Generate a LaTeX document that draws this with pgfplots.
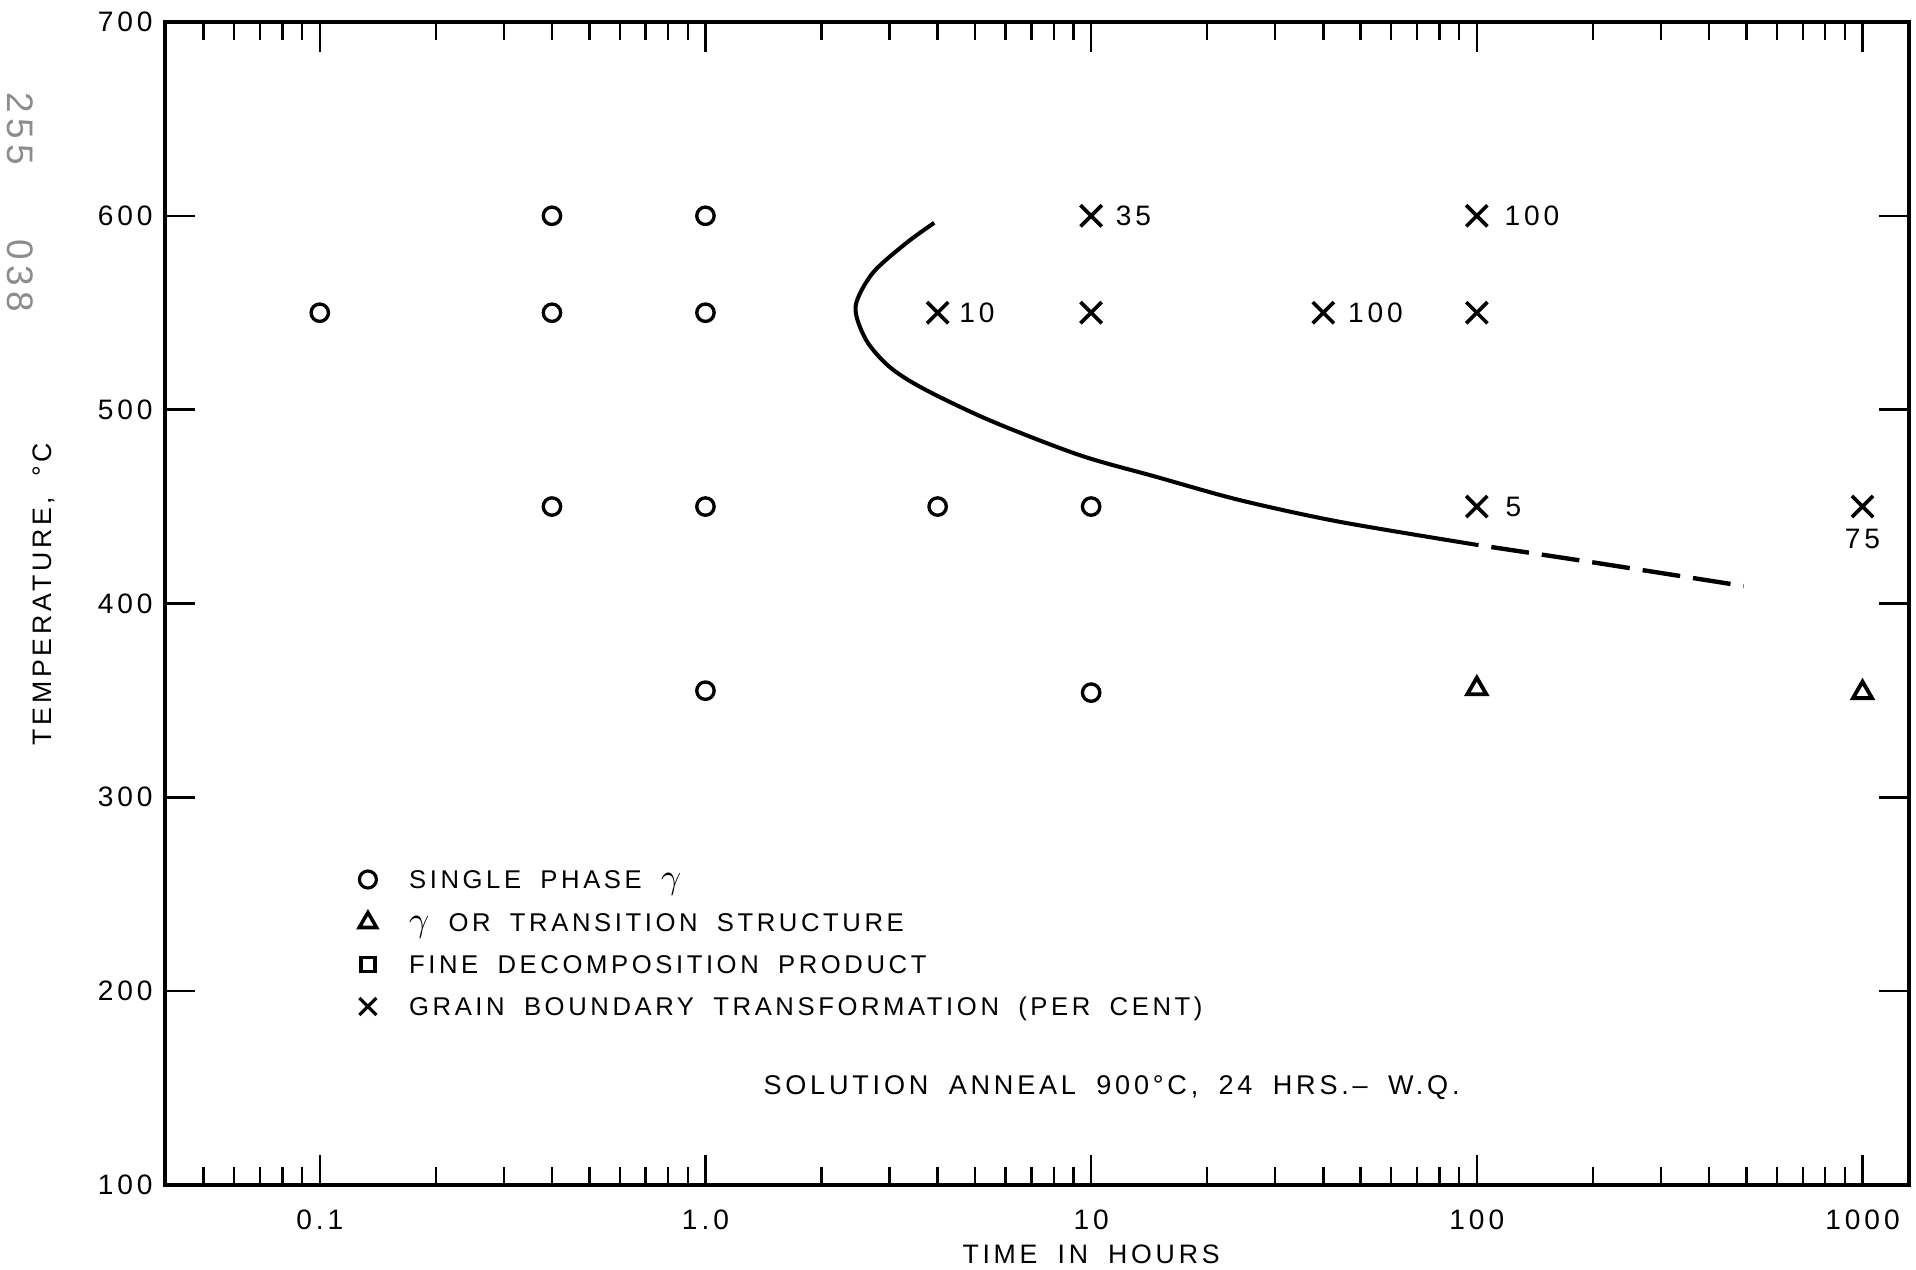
\documentclass[border=0pt]{standalone}
\usepackage{fontspec}
\setmainfont{Liberation Sans}[LetterSpace=14,WordSpace=1.8]
\usepackage{pgfplots}
\pgfplotsset{compat=1.18}
\newcommand{\lab}{\fontsize{7.3}{8.5}\selectfont}
\newcommand{\gam}{{\fontsize{10}{10}\selectfont$\gamma$}}
\begin{document}
\begin{tikzpicture}
\begin{axis}[
  scale only axis,
  width=17.44cm, height=11.63cm,
  xmode=log, log basis x=10,
  xmin=0.0397, xmax=1320,
  ymin=100, ymax=700,
  ytick={100,200,300,400,500,600,700},
  xtick={0.1,1,10,100,1000},
  xticklabels={0.1,1.0,10,100,1000},
  minor xtick={0.05,0.06,0.07,0.08,0.09,0.2,0.3,0.4,0.5,0.6,0.7,0.8,0.9,2,3,4,5,6,7,8,9,20,30,40,50,60,70,80,90,200,300,400,500,600,700,800,900},
  tick align=inside,
  major tick length=0.3cm, minor tick length=0.18cm,
  axis line style={line width=1.1pt},
  every tick/.style={black, line width=0.7pt},
  /pgf/number format/assume math mode=true,
  ticklabel style={font=\fontsize{8}{9}\selectfont},
  xticklabel style={yshift=-0.12cm},
  clip=false,
  xlabel={TIME IN HOURS},
  ylabel={TEMPERATURE, °C},
  label style={font=\fontsize{7.6}{8.5}\selectfont},
  xlabel style={at={(axis description cs:0.531,-0.060)}, anchor=center},
  ylabel style={at={(axis description cs:-0.0694,0.508)}, anchor=center},
  legend image code/.code={\draw[mark repeat=2,mark phase=2,#1] plot coordinates {(0cm,0cm)(0.15cm,0cm)(0.3cm,0cm)};},
  legend style={at={(rel axis cs:0.111,0.271)}, anchor=north west, draw=none, fill=none,
    font=\lab, inner sep=0pt, row sep=2.4mm, column sep=2.9mm,
    nodes={inner xsep=1pt, inner ysep=0pt, text height=1.8mm, text depth=0pt}},
  legend cell align=left,
]
\pgfplotsset{mk/.style={black, mark options={solid, line width=0.85pt}}}
% single phase gamma
\addplot[only marks, mark=o, mark size=0.087cm, mk, mark options={line width=0.95pt}, forget plot] coordinates {
 (0.1,550) (0.4,600) (0.4,550) (0.4,450) (1,600) (1,550) (1,450) (1,355)
 (4,450) (10,450) (10,354)};
% gamma or transition structure
\addplot[only marks, mark=triangle, mark size=0.11cm, mk, mark options={line width=1.1pt}, forget plot] coordinates {
 (100,356) (1000,354)};
% grain boundary transformation
\addplot[only marks, mark=x, mark size=0.15cm, mk, mark options={line width=1.05pt}, forget plot] coordinates {
 (10,600) (4,550) (10,550) (40,550) (100,600) (100,550) (100,450) (1000,450)};
% C-curve (solid)
\addplot[black, line width=1.15pt, smooth, forget plot] coordinates {
 (3.92,596.4) (3.31,585.8) (2.71,570.3) (2.45,553) (2.61,535.9) (3.00,522.1)
 (3.66,511.0) (5.44,494.6) (9.31,476.6) (14.7,465.4) (24.2,453.4) (43.9,442.2) (101,430.1)};
% dashed extension
\addplot[black, line width=1.25pt, dash pattern=on 0.38cm off 0.13cm, dash phase=0.38cm, smooth, forget plot] coordinates {
 (101,430.1) (203,421) (492,409)};

\addlegendimage{only marks, mark=o, mark size=0.085cm, black, mark options={line width=0.9pt}}
\addlegendentry{SINGLE PHASE \gam}
\addlegendimage{only marks, mark=triangle, mark size=0.1cm, black, mark options={line width=1pt}}
\addlegendentry{\gam\ OR TRANSITION STRUCTURE}
\addlegendimage{only marks, mark=square, mark size=0.07cm, black, mark options={line width=1.1pt}}
\addlegendentry{FINE DECOMPOSITION PRODUCT}
\addlegendimage{only marks, mark=x, mark size=0.12cm, black, mark options={line width=0.9pt}}
\addlegendentry{GRAIN BOUNDARY TRANSFORMATION (PER CENT)}

\node[anchor=west, inner sep=0pt, font=\fontsize{8}{9}\selectfont, xshift=0.24cm] at (axis cs:10,600) {35};
\node[anchor=west, inner sep=0pt, font=\fontsize{8}{9}\selectfont, xshift=0.27cm] at (axis cs:100,600) {100};
\node[anchor=west, inner sep=0pt, font=\fontsize{8}{9}\selectfont, xshift=0.21cm] at (axis cs:4,550) {10};
\node[anchor=west, inner sep=0pt, font=\fontsize{8}{9}\selectfont, xshift=0.24cm] at (axis cs:40,550) {100};
\node[anchor=west, inner sep=0pt, font=\fontsize{8}{9}\selectfont, xshift=0.28cm] at (axis cs:100,450) {5};
\node[anchor=center, inner sep=0pt, font=\fontsize{8}{9}\selectfont, yshift=-0.32cm] at (axis cs:1000,450) {75};
\node[anchor=center, inner sep=0pt, font=\fontsize{7.7}{9}\selectfont] at (axis cs:11.3,150) {SOLUTION ANNEAL 900°C, 24 HRS.– W.Q.};
\node[rotate=-90, text=black!45, font=\fontsize{10.5}{11}\selectfont] at (rel axis cs:-0.083,0.845) {255\hspace{0.75cm}038};

\coordinate (sw) at (rel axis cs:0,0);
\coordinate (ne) at (rel axis cs:1,1);
\end{axis}
\pgfresetboundingbox
\path ([shift={(-1.65cm,-0.85cm)}]sw) rectangle ([shift={(0.07cm,0.22cm)}]ne);
\end{tikzpicture}
\end{document}
